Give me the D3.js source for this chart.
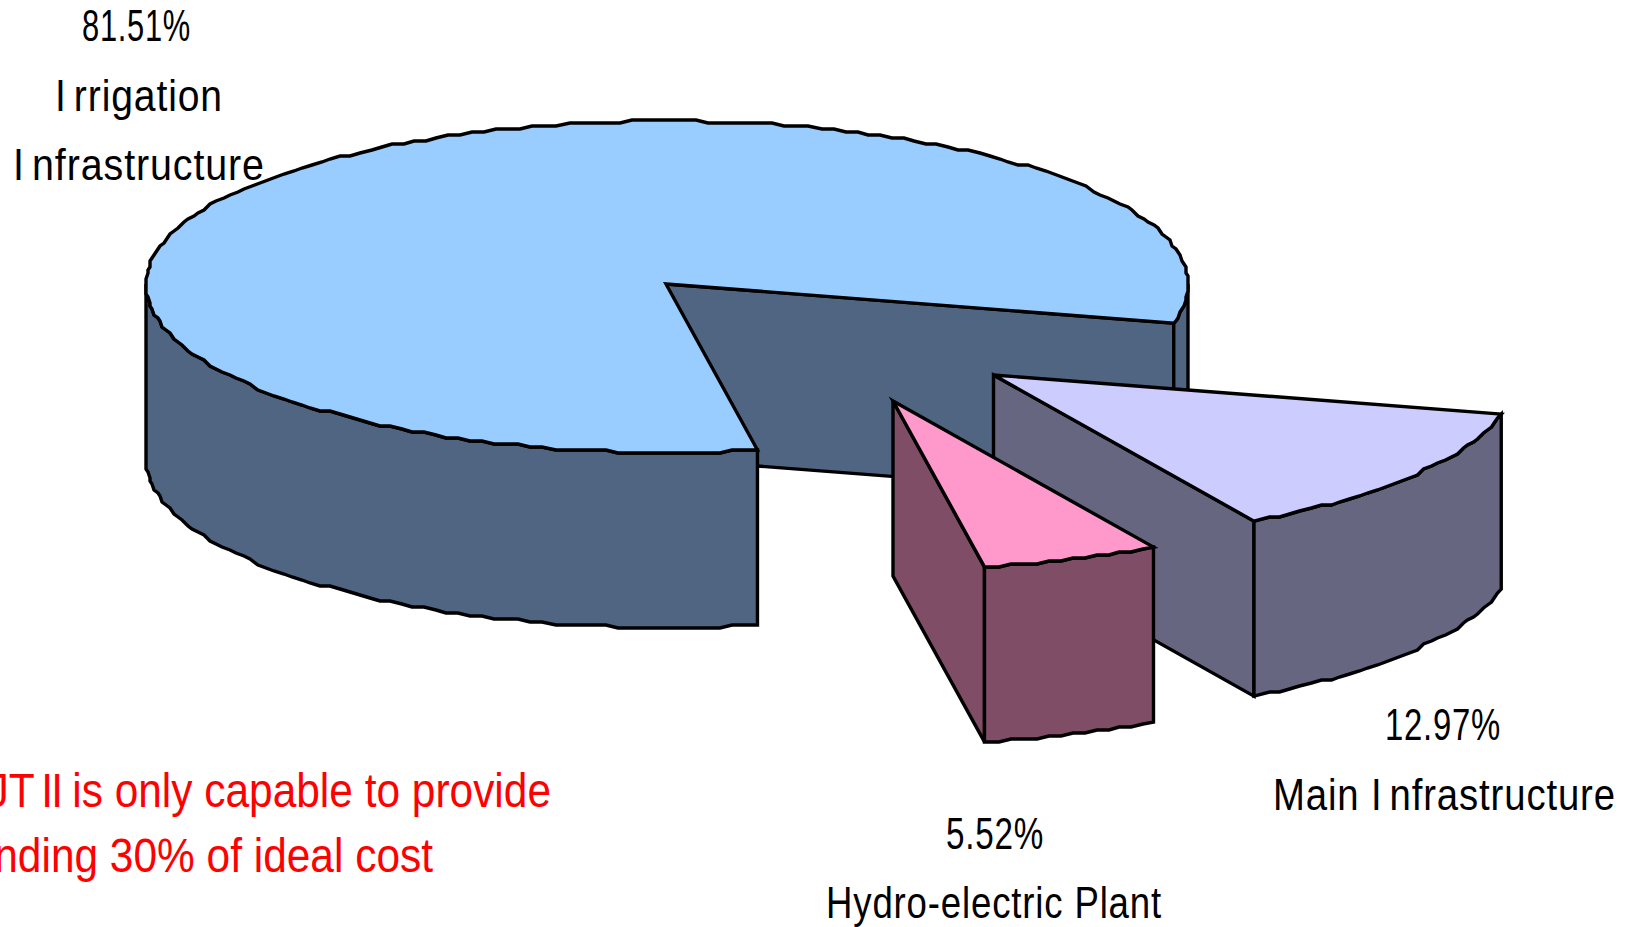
<!DOCTYPE html>
<html>
<head>
<meta charset="utf-8">
<title>Infrastructure cost shares</title>
<script src="https://cdn.jsdelivr.net/npm/d3@7"></script>
<style>
	html, body { margin: 0; padding: 0; background: #fff; overflow: hidden; }
	svg { display: block; }
	text { font-family: "Liberation Sans", sans-serif; }
</style>
</head>
<body>
<div id="chart"></div>
<script>
// chart values
var categories = ["Irrigation Infrastructure", "Main Infrastructure", "Hydro-electric Plant"];
var shares = [81.51, 12.97, 5.52];
var topColors = ["#99CCFF", "#CCCCFF", "#FF99CC"];
var sideColors = ["#4F6581", "#666680", "#804D66"];
var noteLines = ["PJT II is only capable to provide", "funding 30% of ideal cost"];

var width = 1635, height = 927;
var cx = 666, cy = 284, rx = 520, ryBack = 163, ryFront = 168.5, depth = 175;
var rad = Math.PI / 180;

var svg = d3.select("#chart").append("svg")
	.attr("width", width)
	.attr("height", height);

//pie angles, clockwise from 12 o'clock
var pie = d3.pie().sort(null).startAngle(170 * rad).endAngle((170 + 360) * rad);
var arcs = pie(shares);

var xScale = d3.scaleLinear().domain([-1, 1]).range([cx - rx, cx + rx + 2]);
var line = d3.line().curve(d3.curveLinear);

//point on the rim of the tilted pie
function rim(a) {
	var c = Math.cos(a);
	return [xScale(Math.sin(a)), cy - c * (c > 0 ? ryBack : ryFront)];
}

//rim as a rough polyline, the original was a low-res metafile so the curve steps
function roughRim(a0, a1) {
	var step = 1.4 * rad;
	var pts = [rim(a0)];
	for (var a = a0 + step; a < a1 - step / 2; a += step) {
		var p = rim(a);
		pts.push([Math.round(p[0] / 2) * 2, Math.round(p[1] / 3) * 3]);
	}
	pts.push(rim(a1));
	return pts;
}

function shift(pts, dx, dy) {
	return pts.map(function (p) { return [p[0] + dx, p[1] + dy]; });
}

function wall(a0, a1) {
	var top = roughRim(a0, a1);
	return top.concat(shift(top, 0, depth).reverse());
}

function cutFace(a) {
	var p = rim(a);
	return [[cx, cy], p, [p[0], p[1] + depth], [cx, cy + depth]];
}

//how far each slice is pulled out, and which of its faces can be seen
var layers = [
	{
		dx: 0, dy: 0,
		sides: [cutFace(arcs[0].endAngle), wall(90 * rad, arcs[0].endAngle - 360 * rad), wall(arcs[0].startAngle, 270 * rad)]
	},
	{
		dx: 327.5, dy: 91,
		sides: [cutFace(arcs[1].endAngle), wall(arcs[1].startAngle - 360 * rad, arcs[1].endAngle - 360 * rad)]
	},
	{
		dx: 227, dy: 117,
		sides: [cutFace(arcs[2].endAngle - 360 * rad), wall(arcs[2].startAngle - 360 * rad, arcs[2].endAngle - 360 * rad)]
	}
];

var slices = svg.selectAll("g.slice")
	.data(arcs)
	.join("g")
	.attr("class", "slice")
	.attr("transform", function (d, i) { return "translate(" + layers[i].dx + "," + layers[i].dy + ")"; });

slices.each(function (d, i) {
	var g = d3.select(this);
	g.selectAll("path.side")
		.data(layers[i].sides)
		.join("path")
		.attr("class", "side")
		.attr("d", function (s) { return line(s) + "Z"; })
		.attr("fill", sideColors[i]);
	g.append("path")
		.attr("class", "top")
		.attr("d", line([[cx, cy]].concat(roughRim(d.startAngle, d.endAngle))) + "Z")
		.attr("fill", topColors[i]);
	g.selectAll("path")
		.attr("stroke", "#000")
		.attr("stroke-width", 3.4)
		.attr("stroke-linejoin", "miter");
});

//black labels: no condensed font here, so squeeze each one to its width
function label(x, y, str, targetWidth) {
	var gap = 8;
	var t = svg.append("text")
		.attr("font-size", 44)
		.attr("letter-spacing", 1)
		.attr("fill", "#000");
	//the capital I stands apart from the next letter in the original
	var parts = str.split(/(?<=I)(?=[nr])/);
	parts.forEach(function (s, i) {
		t.append("tspan").attr("dx", i ? gap : 0).text(s);
	});
	var sx = targetWidth / (t.node().getComputedTextLength() + (parts.length - 1) * gap);
	t.attr("transform", "translate(" + x + "," + y + ") scale(" + sx + ",1)");
}

function note(x, y, str) {
	var t = svg.append("text")
		.attr("transform", "translate(" + x + "," + y + ") scale(0.884,1)")
		.attr("text-anchor", "end")
		.attr("font-size", 48)
		.attr("fill", "#FF0000");
	//"PJT II" sits tighter in the original than the rest of the line
	var m = str.match(/^(PJT)( )(I)(I)( )(.*)$/);
	var runs = m ? m.slice(1) : [str];
	var tight = m ? [0, -6, -2, 0, -3, 0] : [0];
	runs.forEach(function (s, i) {
		t.append("tspan").attr("letter-spacing", tight[i]).text(s);
	});
}

var fmt = function (v) { return v.toFixed(2) + "%"; };

label(82, 41, fmt(shares[0]), 109);
label(55, 111, "Irrigation", 168);
label(13, 180, "Infrastructure", 252);

label(1385, 740, fmt(shares[1]), 116);
label(1273, 810, categories[1], 343);

label(946, 849, fmt(shares[2]), 98);
label(826, 918, categories[2], 336);

note(551, 807, noteLines[0]);
note(433, 872, noteLines[1]);
</script>
</body>
</html>
